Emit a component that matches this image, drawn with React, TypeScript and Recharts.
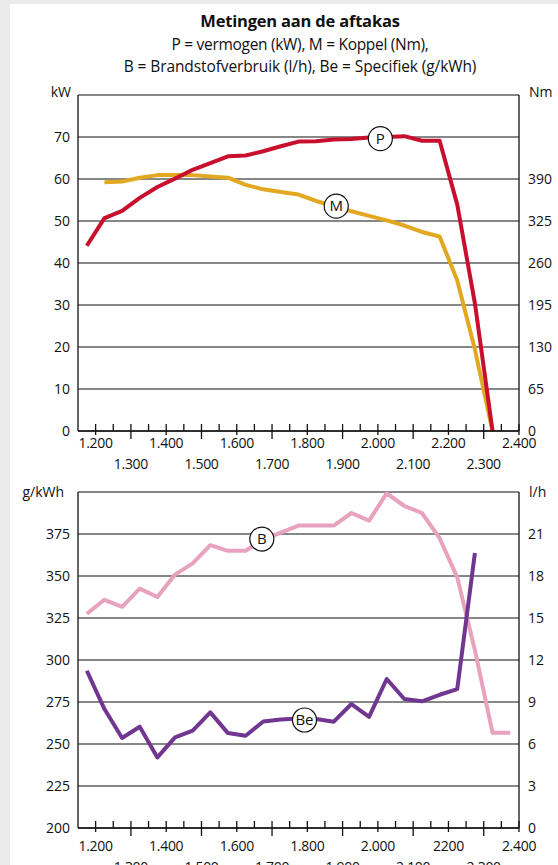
import React from 'react';
import { LineChart, Line, XAxis, YAxis, CartesianGrid, ReferenceDot } from 'recharts';

// ---------- data ----------
const rpmTop = [1175, 1225, 1275, 1325, 1375, 1425, 1475, 1525, 1575, 1625, 1675, 1725, 1775, 1825, 1875, 1925, 1975, 2025, 2075, 2125, 2175, 2225, 2275, 2325];
const powerKW = [44.1, 50.7, 52.4, 55.5, 58.1, 60.1, 62.2, 63.8, 65.4, 65.6, 66.6, 67.8, 68.9, 69.0, 69.4, 69.5, 69.9, 70.0, 70.2, 69.1, 69.1, 53.9, 30.4, 0];
const torqueNm = [null, 385, 386, 392, 396, 396, 396, 394, 392, 381, 374, 370, 366, 356, 348, 340, 333, 326, 318, 308, 301, 233, 126, 0];

const rpmBottom = [1175, 1225, 1275, 1325, 1375, 1425, 1475, 1525, 1575, 1625, 1675, 1725, 1775, 1825, 1875, 1925, 1975, 2025, 2075, 2125, 2175, 2225, 2275, 2325, 2375];
const fuelLh = [15.3, 16.3, 15.8, 17.1, 16.5, 18.1, 18.9, 20.2, 19.8, 19.8, 20.6, 21.1, 21.6, 21.6, 21.6, 22.5, 21.95, 23.9, 23.0, 22.5, 20.7, 17.9, 12.7, 6.8, 6.8];
const specGkwh = [293.6, 270.8, 253.6, 260.3, 242.0, 253.9, 257.9, 268.8, 256.5, 254.9, 263.4, 264.6, 265.2, 264.9, 263.3, 273.8, 266.2, 288.7, 276.8, 275.4, 279.3, 282.7, 363.7, null, null];

const xTicks = [1200, 1250, 1300, 1350, 1400, 1450, 1500, 1550, 1600, 1650, 1700, 1750, 1800, 1850, 1900, 1950, 2000, 2050, 2100, 2150, 2200, 2250, 2300, 2350, 2400];
const xLabelsTop = ['1.200', '1.300', '1.400', '1.500', '1.600', '1.700', '1.800', '1.900', '2.000', '2.100', '2.200', '2.300', '2.400'];
const xLabelsBottom = ['1.200', '1.300', '1.400', '1.500', '1.600', '1.700', '1.800', '1.900', '2.000', '2.100', '2200', '2.300', '2.400'];

const kwTicks = [0, 10, 20, 30, 40, 50, 60, 70, 80];
const nmTicks = [0, 65, 130, 195, 260, 325, 390];
const gTicks = [200, 225, 250, 275, 300, 325, 350, 375, 400];
const lhTicks = [0, 3, 6, 9, 12, 15, 18, 21];

const topData = rpmTop.map((r, i) => ({ rpm: r, P: powerKW[i], M: torqueNm[i] }));
const bottomData = rpmBottom.map((r, i) => ({ rpm: r, B: fuelLh[i], Be: specGkwh[i] }));

// ---------- style ----------
const FONT = '"Open Sans", sans-serif';
const RED = '#c8102e';
const YELLOW = '#e3a821';
const PINK = '#e8a2bd';
const PURPLE = '#713790';
const INK = '#111';

const makeXTick = (labels: string[], row1: number, row2: number) => (props: any) => {
  const { x, y, payload } = props;
  const v = payload.value as number;
  const major = v % 100 === 0;
  const idx = Math.round((v - 1200) / 100);
  const odd = major && idx % 2 === 1;
  return (
    <g>
      <line x1={x} x2={x} y1={y - 7} y2={major ? (odd ? y + 8 : y + 4) : y} stroke={INK} strokeWidth={1.3} />
      {major && (
        <text x={x} y={y + (odd ? row2 : row1)} textAnchor="middle" fontSize={14} fontFamily={FONT} fill={INK} letterSpacing={-0.3}>
          {labels[idx]}
        </text>
      )}
    </g>
  );
};

const yTickStyle = { fontSize: 14, fontFamily: FONT, fill: INK };

const TopXTick = makeXTick(xLabelsTop, 17, 38);
const BottomXTick = makeXTick(xLabelsBottom, 23, 44);

const unitStyle: React.CSSProperties = {
  position: 'absolute',
  fontSize: 14,
  lineHeight: '20px',
  fontFamily: FONT,
  color: INK,
  whiteSpace: 'nowrap',
};

const titleLine: React.CSSProperties = {
  position: 'absolute',
  left: 40,
  width: 520,
  textAlign: 'center',
  lineHeight: '22px',
  color: INK,
  whiteSpace: 'nowrap',
};

export default function App() {
  return (
    <div style={{ position: 'absolute', left: 0, top: 0, width: 558, height: 865, background: '#ebebeb', overflow: 'hidden', fontFamily: FONT }}>
      <div style={{ position: 'absolute', left: 10, top: 4, width: 548, height: 861, background: '#fff' }} />

      <div style={{ ...titleLine, top: 10, fontSize: 16.5, fontWeight: 700, letterSpacing: -0.2 }}>
        Metingen aan de aftakas
      </div>
      <div style={{ ...titleLine, top: 33, fontSize: 15.5, letterSpacing: -0.3 }}>
        P = vermogen (kW), M = Koppel (Nm),
      </div>
      <div style={{ ...titleLine, top: 55, fontSize: 15.5, letterSpacing: -0.1 }}>
        B = Brandstofverbruik (l/h), Be = Specifiek (g/kWh)
      </div>

      <div style={{ ...unitStyle, left: 0, width: 71, textAlign: 'right', top: 82 }}>kW</div>
      <div style={{ ...unitStyle, left: 529, top: 82 }}>Nm</div>
      <div style={{ ...unitStyle, left: 0, width: 64, textAlign: 'right', top: 482 }}>g/kWh</div>
      <div style={{ ...unitStyle, left: 529, top: 482 }}>l/h</div>

      <div style={{ position: 'absolute', left: 0, top: 0 }}>
        <LineChart width={558} height={481} data={topData} margin={{ top: 95, right: 0, bottom: 0, left: 0 }}>
          <CartesianGrid yAxisId="left" vertical={false} stroke={INK} strokeWidth={1.2} />
          <XAxis dataKey="rpm" type="number" domain={[1150, 2400]} ticks={xTicks} interval={0} height={50}
            axisLine={{ stroke: INK, strokeWidth: 1.3 }} tickLine={false} tickSize={0} tickMargin={0} tick={<TopXTick />} />
          <YAxis yAxisId="left" orientation="left" width={78} domain={[0, 80]} ticks={kwTicks} interval={0}
            tickFormatter={(v: number) => (v === 80 ? '' : String(v))}
            axisLine={{ stroke: INK, strokeWidth: 1.3 }} tickLine={false} tickSize={0} tickMargin={8} tick={yTickStyle} />
          <YAxis yAxisId="right" orientation="right" width={39} domain={[0, 520]} ticks={nmTicks} interval={0}
            axisLine={{ stroke: INK, strokeWidth: 1.3 }} tickLine={false} tickSize={0} tickMargin={9} tick={yTickStyle} />
          <Line yAxisId="right" dataKey="M" stroke={YELLOW} strokeWidth={4} dot={false} isAnimationActive={false} strokeLinejoin="round" />
          <Line yAxisId="left" dataKey="P" stroke={RED} strokeWidth={4} dot={false} isAnimationActive={false} strokeLinejoin="round" />
          <ReferenceDot yAxisId="left" x={2007} y={69.6} r={12} fill="#fff" stroke={INK} strokeWidth={1.2}
            label={{ value: 'P', position: 'center', fontSize: 15, fill: INK, fontFamily: FONT }} />
          <ReferenceDot yAxisId="right" x={1882} y={348} r={12} fill="#fff" stroke={INK} strokeWidth={1.2}
            label={{ value: 'M', position: 'center', fontSize: 15, fill: INK, fontFamily: FONT }} />
        </LineChart>
      </div>

      <div style={{ position: 'absolute', left: 0, top: 462 }}>
        <LineChart width={558} height={416} data={bottomData} margin={{ top: 30, right: 0, bottom: 0, left: 0 }}>
          <CartesianGrid yAxisId="left" vertical={false} stroke={INK} strokeWidth={1.2} />
          <XAxis dataKey="rpm" type="number" domain={[1150, 2400]} ticks={xTicks} interval={0} height={50}
            axisLine={{ stroke: INK, strokeWidth: 1.3 }} tickLine={false} tickSize={0} tickMargin={0} tick={<BottomXTick />} />
          <YAxis yAxisId="left" orientation="left" width={78} domain={[200, 400]} ticks={gTicks} interval={0}
            tickFormatter={(v: number) => (v === 400 ? '' : String(v))}
            axisLine={{ stroke: INK, strokeWidth: 1.3 }} tickLine={false} tickSize={0} tickMargin={8} tick={yTickStyle} />
          <YAxis yAxisId="right" orientation="right" width={39} domain={[0, 24]} ticks={lhTicks} interval={0}
            axisLine={{ stroke: INK, strokeWidth: 1.3 }} tickLine={false} tickSize={0} tickMargin={9} tick={yTickStyle} />
          <Line yAxisId="right" dataKey="B" stroke={PINK} strokeWidth={4} dot={false} isAnimationActive={false} strokeLinejoin="round" />
          <Line yAxisId="left" dataKey="Be" stroke={PURPLE} strokeWidth={4} dot={false} isAnimationActive={false} strokeLinejoin="round" />
          <ReferenceDot yAxisId="right" x={1671} y={20.64} r={12} fill="#fff" stroke={INK} strokeWidth={1.2}
            label={{ value: 'B', position: 'center', fontSize: 15, fill: INK, fontFamily: FONT }} />
          <ReferenceDot yAxisId="left" x={1792} y={264.3} r={12} fill="#fff" stroke={INK} strokeWidth={1.2}
            label={{ value: 'Be', position: 'center', fontSize: 15, fill: INK, fontFamily: FONT }} />
        </LineChart>
      </div>
    </div>
  );
}
